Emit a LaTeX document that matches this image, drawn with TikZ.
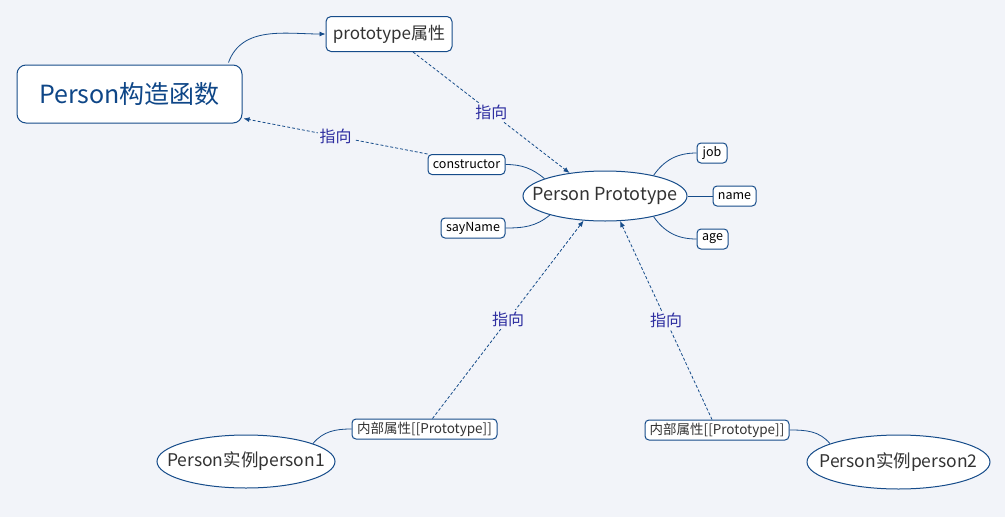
\documentclass[tikz,border=0pt]{standalone}
\usepackage{fontspec}
\setmainfont{Noto Sans CJK SC}
\usetikzlibrary{arrows.meta,shapes.geometric,calc}
\definecolor{bg}{RGB}{242,244,249}
\definecolor{lineblue}{RGB}{22,76,138}
\definecolor{titleblue}{RGB}{14,70,135}
\definecolor{txtgray}{RGB}{51,51,51}
\definecolor{lblblue}{RGB}{45,45,160}
\tikzset{
  box/.style={draw=lineblue,line width=1pt,fill=white,rounded corners=4pt,inner sep=0pt,text=txtgray},
  small/.style={box,minimum height=20pt,font=\fontsize{12.5}{14}\selectfont,text=black},
  oval/.style={ellipse,draw=lineblue,line width=1pt,fill=white,inner sep=0pt},
  ovaltext/.style={inner sep=0pt,text=txtgray,font=\fontsize{18}{21}\selectfont},
  conn/.style={draw=lineblue,line width=0.8pt},
  dconn/.style={conn,dash pattern=on 3pt off 2pt,-{Latex[length=6pt,width=5pt]}},
  lbl/.style={fill=bg,inner sep=2pt,text=lblblue,font=\fontsize{16}{18}\selectfont}
}
\begin{document}
\begin{tikzpicture}[x=1pt,y=1pt]
\fill[bg] (0,0) rectangle (1005,-517);
\useasboundingbox (0,0) rectangle (1005,-517);

\node[box,minimum width=225pt,minimum height=58pt,rounded corners=9pt,text=titleblue,font=\fontsize{25}{30}\selectfont] (ctor) at (129.5,-94) {Person构造函数};
\node[box,minimum width=126pt,minimum height=35pt,rounded corners=5pt,font=\fontsize{17}{20}\selectfont] (proto) at (389,-34) {prototype属性};
\node[oval,minimum width=164pt,minimum height=50pt] (pp) at (605,-196) {};
\node[ovaltext] (ppt) at (pp.center) {Person Prototype};

\node[small,minimum width=77pt] (cons) at (466.5,-164.5) {constructor};
\node[small,minimum width=64pt] (say) at (473,-228) {sayName};
\node[small,minimum width=30pt] (job) at (712,-153) {job};
\node[small,minimum width=43pt] (name) at (734.5,-196) {name};
\node[small,minimum width=31pt] (age) at (712.5,-239) {age};

\node[small,minimum width=145pt,font=\fontsize{13.5}{15}\selectfont,text=txtgray] (int1) at (424.5,-429) {内部属性[[Prototype]]};
\node[small,minimum width=144pt,font=\fontsize{13.5}{15}\selectfont,text=txtgray] (int2) at (717,-430) {内部属性[[Prototype]]};

\node[oval,minimum width=178pt,minimum height=53pt] (p1) at (246,-461.5) {};
\node[ovaltext,font=\fontsize{17.5}{21}\selectfont] (p1t) at (p1.center) {Person实例person1};
\node[oval,minimum width=183pt,minimum height=54pt] (p2) at (898.5,-462) {};
\node[ovaltext,font=\fontsize{17.5}{21}\selectfont] (p2t) at (p2.center) {Person实例person2};

% connectors
\draw[conn,-{Latex[length=6pt,width=5pt]}] ($(ctor.north east)+(-14,2)$) to[out=70,in=180] (proto.west);
\draw[dconn] ($(proto.south)+(24,0)$) -- node[lbl,pos=0.5]{指向} (pp.147);
\draw[dconn] (cons.north west) -- node[lbl,pos=0.5]{指向} ($(ctor.south east)+(1,5)$);
\draw[conn] (cons.east) to[out=0,in=140] (pp.164);
\draw[conn] (say.east) to[out=0,in=-140] (pp.199);
\draw[conn] (pp.23) to[out=55,in=180] (job.west);
\draw[conn] (pp.east) -- (name.west);
\draw[conn] (pp.-23) to[out=-55,in=180] (age.west);
\draw[dconn] ($(int1.north)+(8,0)$) -- node[lbl,pos=0.5]{指向} (pp.229);
\draw[dconn] ($(int2.north)+(-5,0)$) -- node[lbl,pos=0.5]{指向} (pp.-59);
\draw[conn] (p1.15) to[out=50,in=180] (int1.west);
\draw[conn] (int2.east) to[out=0,in=130] (p2.165);
\end{tikzpicture}
\end{document}
